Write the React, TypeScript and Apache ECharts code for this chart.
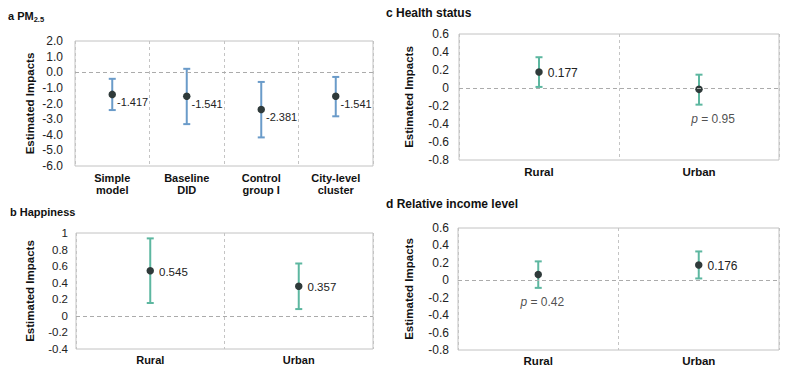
import React, { useEffect, useRef } from "react";
import * as echarts from "echarts";

// Panel a: PM2.5
const aCategories = ["Simple\nmodel", "Baseline\nDID", "Control\ngroup I", "City-level\ncluster"];
const aEstimates = [-1.417, -1.541, -2.381, -1.541];
const aLower = [-2.42, -3.32, -4.17, -2.82];
const aUpper = [-0.42, 0.22, -0.62, -0.3];
const aLabels = ["-1.417", "-1.541", "-2.381", "-1.541"];

// Panel b: Happiness
const bCategories = ["Rural", "Urban"];
const bEstimates = [0.545, 0.357];
const bLower = [0.155, 0.082];
const bUpper = [0.935, 0.632];
const bLabels = ["0.545", "0.357"];

// Panel c: Health status
const cCategories = ["Rural", "Urban"];
const cEstimates = [0.177, -0.015];
const cLower = [0.012, -0.185];
const cUpper = [0.342, 0.148];
const cLabels = ["0.177", "p = 0.95"];

// Panel d: Relative income level
const dCategories = ["Rural", "Urban"];
const dEstimates = [0.065, 0.176];
const dLower = [-0.087, 0.021];
const dUpper = [0.217, 0.331];
const dLabels = ["p = 0.42", "0.176"];

const FONT = "'Liberation Sans', Arial, Helvetica, sans-serif";
const BLUE = "#6a9bc9";
const TEAL = "#5db7a0";
const DOT = "#2f3a3a";

export default function App() {
  const ref = useRef<HTMLDivElement>(null);

  useEffect(() => {
    if (!ref.current) return;
    const chart = echarts.init(ref.current, null, { renderer: "svg" });

    const panels = [
      { cats: aCategories, est: aEstimates, lo: aLower, hi: aUpper, labels: aLabels, color: BLUE,
        grid: { left: 75, top: 41, width: 298, height: 125 }, min: -6, max: 2, interval: 1,
        fmt: (v: number) => v.toFixed(1), yFont: 12, xFont: 11, nameGap: 39, yMargin: 12, xMargin: 6, labelDy: 8, labelFont: 11, pDx: [0, 0] },
      { cats: bCategories, est: bEstimates, lo: bLower, hi: bUpper, labels: bLabels, color: TEAL,
        grid: { left: 76, top: 233, width: 297, height: 116 }, min: -0.4, max: 1, interval: 0.2,
        fmt: (v: number) => String(Math.round(v * 10) / 10), yFont: 11.5, xFont: 11, nameGap: 40, yMargin: 8, xMargin: 5, labelDy: 1, labelFont: 11.5, pDx: [0, 0] },
      { cats: cCategories, est: cEstimates, lo: cLower, hi: cUpper, labels: cLabels, color: TEAL,
        grid: { left: 459, top: 34, width: 320, height: 126 }, min: -0.8, max: 0.6, interval: 0.2,
        fmt: (v: number) => String(Math.round(v * 10) / 10), yFont: 12, xFont: 11.5, nameGap: 44, yMargin: 10, xMargin: 6, labelDy: 1, labelFont: 12, pDx: [0, 14] },
      { cats: dCategories, est: dEstimates, lo: dLower, hi: dUpper, labels: dLabels, color: TEAL,
        grid: { left: 458, top: 228, width: 321, height: 122 }, min: -0.8, max: 0.6, interval: 0.2,
        fmt: (v: number) => String(Math.round(v * 10) / 10), yFont: 12, xFont: 11.5, nameGap: 43, yMargin: 9, xMargin: 5, labelDy: 1, labelFont: 12, pDx: [4, 0] },
    ];

    const grid: any[] = [];
    const xAxis: any[] = [];
    const yAxis: any[] = [];
    const series: any[] = [];

    panels.forEach((p, k) => {
      grid.push({ ...p.grid, show: true, borderColor: "#c2c2c2", borderWidth: 1, backgroundColor: "transparent" });
      xAxis.push({
        type: "category", gridIndex: k, data: p.cats,
        axisLine: { show: false }, axisTick: { show: false },
        axisLabel: { fontFamily: FONT, fontWeight: "bold", fontSize: p.xFont, color: "#111", margin: p.xMargin, lineHeight: 12, interval: 0 },
        splitLine: { show: true, interval: 0, lineStyle: { type: [3, 3], color: "#c4c4c4", width: 1 } },
      });
      yAxis.push({
        type: "value", gridIndex: k, min: p.min, max: p.max, interval: p.interval,
        name: "Estimated Impacts", nameLocation: "middle", nameGap: p.nameGap, nameRotate: 90,
        nameTextStyle: { fontFamily: FONT, fontWeight: "bold", fontSize: 11.5, color: "#111" },
        axisLine: { show: false }, axisTick: { show: false }, splitLine: { show: false },
        axisLabel: { fontFamily: FONT, fontSize: p.yFont, color: "#222", margin: p.yMargin, formatter: p.fmt },
      });
      const color = p.color;
      series.push({
        type: "custom", xAxisIndex: k, yAxisIndex: k, z: 2,
        data: p.cats.map((_, i) => [i, p.lo[i], p.hi[i]]),
        encode: { x: 0, y: [1, 2] },
        renderItem: (params: any, api: any) => {
          const x = api.value(0);
          const lo = api.coord([x, api.value(1)]);
          const hi = api.coord([x, api.value(2)]);
          const h = 3.5;
          const st = { stroke: color, lineWidth: 2 };
          return {
            type: "group",
            children: [
              { type: "line", shape: { x1: lo[0], y1: lo[1], x2: hi[0], y2: hi[1] }, style: st },
              { type: "line", shape: { x1: lo[0] - h, y1: lo[1], x2: lo[0] + h, y2: lo[1] }, style: st },
              { type: "line", shape: { x1: hi[0] - h, y1: hi[1], x2: hi[0] + h, y2: hi[1] }, style: st },
            ],
          };
        },
      });
      series.push({
        type: "scatter", xAxisIndex: k, yAxisIndex: k, z: 3,
        symbolSize: 7.5, itemStyle: { color: DOT, opacity: 1 },
        data: p.est.map((v, i) => {
          const isP = p.labels[i].startsWith("p");
          return {
            value: [i, v],
            label: {
              show: !isP, position: "right", distance: k === 0 ? 1 : 5, offset: [0, p.labelDy],
              formatter: p.labels[i], fontFamily: FONT, fontSize: p.labelFont, color: "#222",
            },
          };
        }),
        markLine: {
          silent: true, symbol: "none", label: { show: false },
          lineStyle: { type: [4, 3], color: "#ababab", width: 1 },
          data: [{ yAxis: 0 }],
        },
      });
      series.push({
        type: "scatter", xAxisIndex: k, yAxisIndex: k, z: 3, symbolSize: 0,
        data: p.lo.map((v, i) => {
          const isP = p.labels[i].startsWith("p");
          return {
            value: [i, v],
            label: {
              show: isP, position: "bottom", distance: 8, offset: [p.pDx[i], 0],
              formatter: "{i|p} = " + p.labels[i].replace(/^p = /, ""),
              fontFamily: FONT, fontSize: p.labelFont, color: "#222",
              rich: { i: { fontStyle: "italic", fontFamily: FONT, fontSize: p.labelFont, color: "#222" } },
            },
          };
        }),
      });
    });

    const titleStyle = { fontFamily: FONT, fontWeight: "bold" as const, fontSize: 11, color: "#111" };
    const option: any = {
      animation: false,
      backgroundColor: "#fff",
      title: [
        {
          text: "{t|a PM}{s|2.5}", left: 8, top: 9, padding: 0,
          textStyle: { ...titleStyle, rich: { t: { ...titleStyle }, s: { ...titleStyle, fontSize: 7.5, padding: [6, 0, 0, 0] } } },
        },
        { text: "b Happiness", left: 10, top: 206, padding: 0, textStyle: titleStyle },
        { text: "c Health status", left: 386, top: 7, padding: 0, textStyle: { ...titleStyle, fontSize: 12 } },
        { text: "d Relative income level", left: 386, top: 198, padding: 0, textStyle: { ...titleStyle, fontSize: 12 } },
      ],
      grid, xAxis, yAxis, series,
    };
    chart.setOption(option);
    return () => chart.dispose();
  }, []);

  return <div ref={ref} style={{ position: "fixed", left: 0, top: 0, width: 799, height: 389 }} />;
}
